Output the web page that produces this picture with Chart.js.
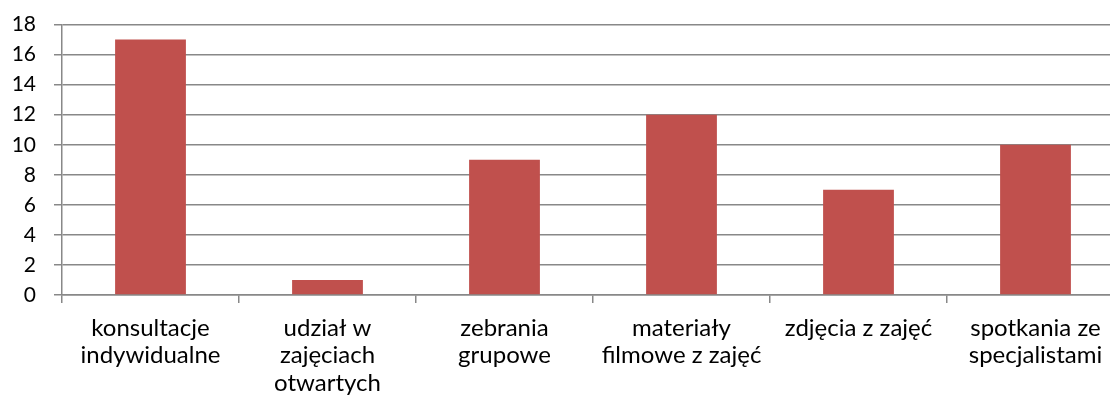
<!DOCTYPE html>
<html>
<head>
<meta charset="utf-8">
<script src="https://cdn.jsdelivr.net/npm/chart.js@4/dist/chart.umd.min.js"></script>
<style>
  html, body { margin: 0; padding: 0; background: #fff; overflow: hidden; }
  #wrap { width: 1124px; height: 412px; margin-top: -6px; }
</style>
</head>
<body>
<div id="wrap"><canvas id="chart"></canvas></div>
<script>
// categories and values
var categories = [
  ['konsultacje', 'indywidualne'],
  ['udział w', 'zajęciach', 'otwartych'],
  ['zebrania', 'grupowe'],
  ['materiały', 'filmowe z zajęć'],
  'zdjęcia z zajęć',
  ['spotkania ze', 'specjalistami']
];
var values = [17, 1, 9, 12, 7, 10];
var yMin = 0;
var yMax = 18;
var yStep = 2;

var ctx = document.getElementById('chart').getContext('2d');
var myChart = new Chart(ctx, {
  type: 'bar',
  data: {
    labels: categories,
    datasets: [{
      data: values,
      backgroundColor: '#C0504D',
      borderWidth: 0,
      barPercentage: 0.4,
      categoryPercentage: 1
    }]
  },
  options: {
    responsive: true,
    maintainAspectRatio: false,
    animation: false,
    layout: { padding: { top: 13, left: 0, right: 0, bottom: 0 } },
    plugins: { legend: { display: false }, tooltip: { enabled: false } },
    scales: {
      x: {
        afterFit: function(scale) { scale.height = 111; },
        grid: { display: true, drawOnChartArea: false, drawTicks: true, tickLength: 8, color: '#888888', lineWidth: 1.5 },
        border: { display: true, color: '#888888', width: 1.5 },
        ticks: { color: '#000', font: { family: 'Lato', size: 24, lineHeight: 1.15 }, padding: 11, maxRotation: 0, autoSkip: false }
      },
      y: {
        min: yMin,
        max: yMax,
        afterFit: function(scale) { scale.width = 62; },
        grid: { color: '#888888', lineWidth: 1.5, tickLength: 8 },
        border: { display: true, color: '#888888', width: 1.5 },
        ticks: { stepSize: yStep, autoSkip: false, color: '#000', font: { family: 'Lato', size: 21 }, padding: 18 }
      }
    }
  }
});
</script>
</body>
</html>
